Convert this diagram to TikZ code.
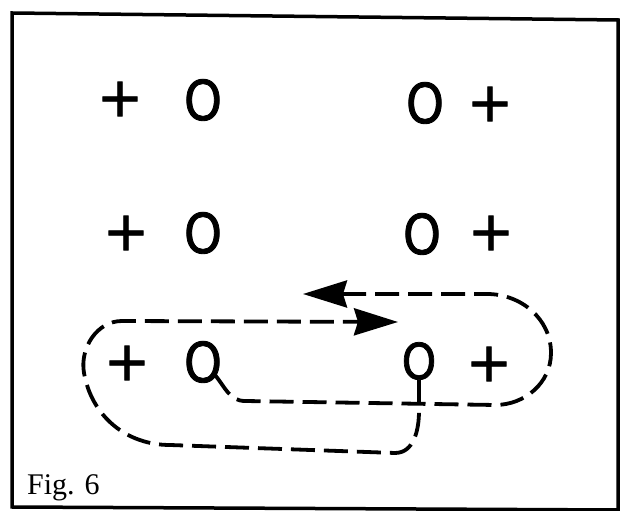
\documentclass[tikz,border=0pt]{standalone}
\usepackage{fontspec}
\usepackage{graphicx}
\setmainfont{Liberation Serif}
\newfontfamily\symfont[FakeBold=1.6]{DejaVu Sans}
\usetikzlibrary{arrows.meta}

\begin{document}
\begin{tikzpicture}[x=1pt, y=1pt, >={Stealth[length=44pt, width=27pt, inset=4pt]},
    sym/.style={inner sep=0pt, font=\symfont\fontsize{55}{55}\selectfont},
    loop/.style={line width=3.8pt, dash pattern=on 24pt off 9pt}]
    \useasboundingbox (0,0) rectangle (621,511);
    % Frame
    \draw[line width=3.5pt] (12,4) -- (12,498) -- (618,491) -- (618,1) -- cycle;
    % Row 1
    \node[sym] (p1) at (120,412) {+};
    \node[sym] (o1) at (203,411) {\scalebox{0.88}[1]{O}};
    \node[sym] (o2) at (425,408) {\scalebox{0.88}[1]{O}};
    \node[sym] (p2) at (490,407) {+};
    % Row 2
    \node[sym] (p3) at (126,278) {+};
    \node[sym] (o3) at (203,278) {\scalebox{0.88}[1]{O}};
    \node[sym] (o4) at (422,277) {\scalebox{0.88}[1]{O}};
    \node[sym] (p4) at (491,278) {+};
    % Row 3
    \node[sym] (p5) at (127,148) {+};
    \node[sym] (o5) at (203,149) {\scalebox{0.88}[1]{O}};
    \node[sym] (o6) at (419,150) {\scalebox{0.8}[0.9]{O}};
    \node[sym] (p6) at (489,147) {+};
    % Upper loop, arrow to the left
    \draw[loop, ->] ([xshift=12pt, yshift=-13pt]o5.center) to[out=-50, in=180] (245,110)
        -- (495,106) to[out=0, in=-90] (551,158) to[out=90, in=0] (487,217) -- (303,217);
    % Lower loop, arrow to the right
    \draw[loop, ->] (o6.south) -- (419,100) to[out=-90, in=0] (395,58) -- (170,66)
        to[out=180, in=-80] (84,138) to[out=100, in=180] (122,190) -- (398,189);
    % Caption
    \node[anchor=base west, inner sep=0pt, font=\fontsize{30}{30}\selectfont] (cap) at (27,16) {Fig. 6};
\end{tikzpicture}
\end{document}
